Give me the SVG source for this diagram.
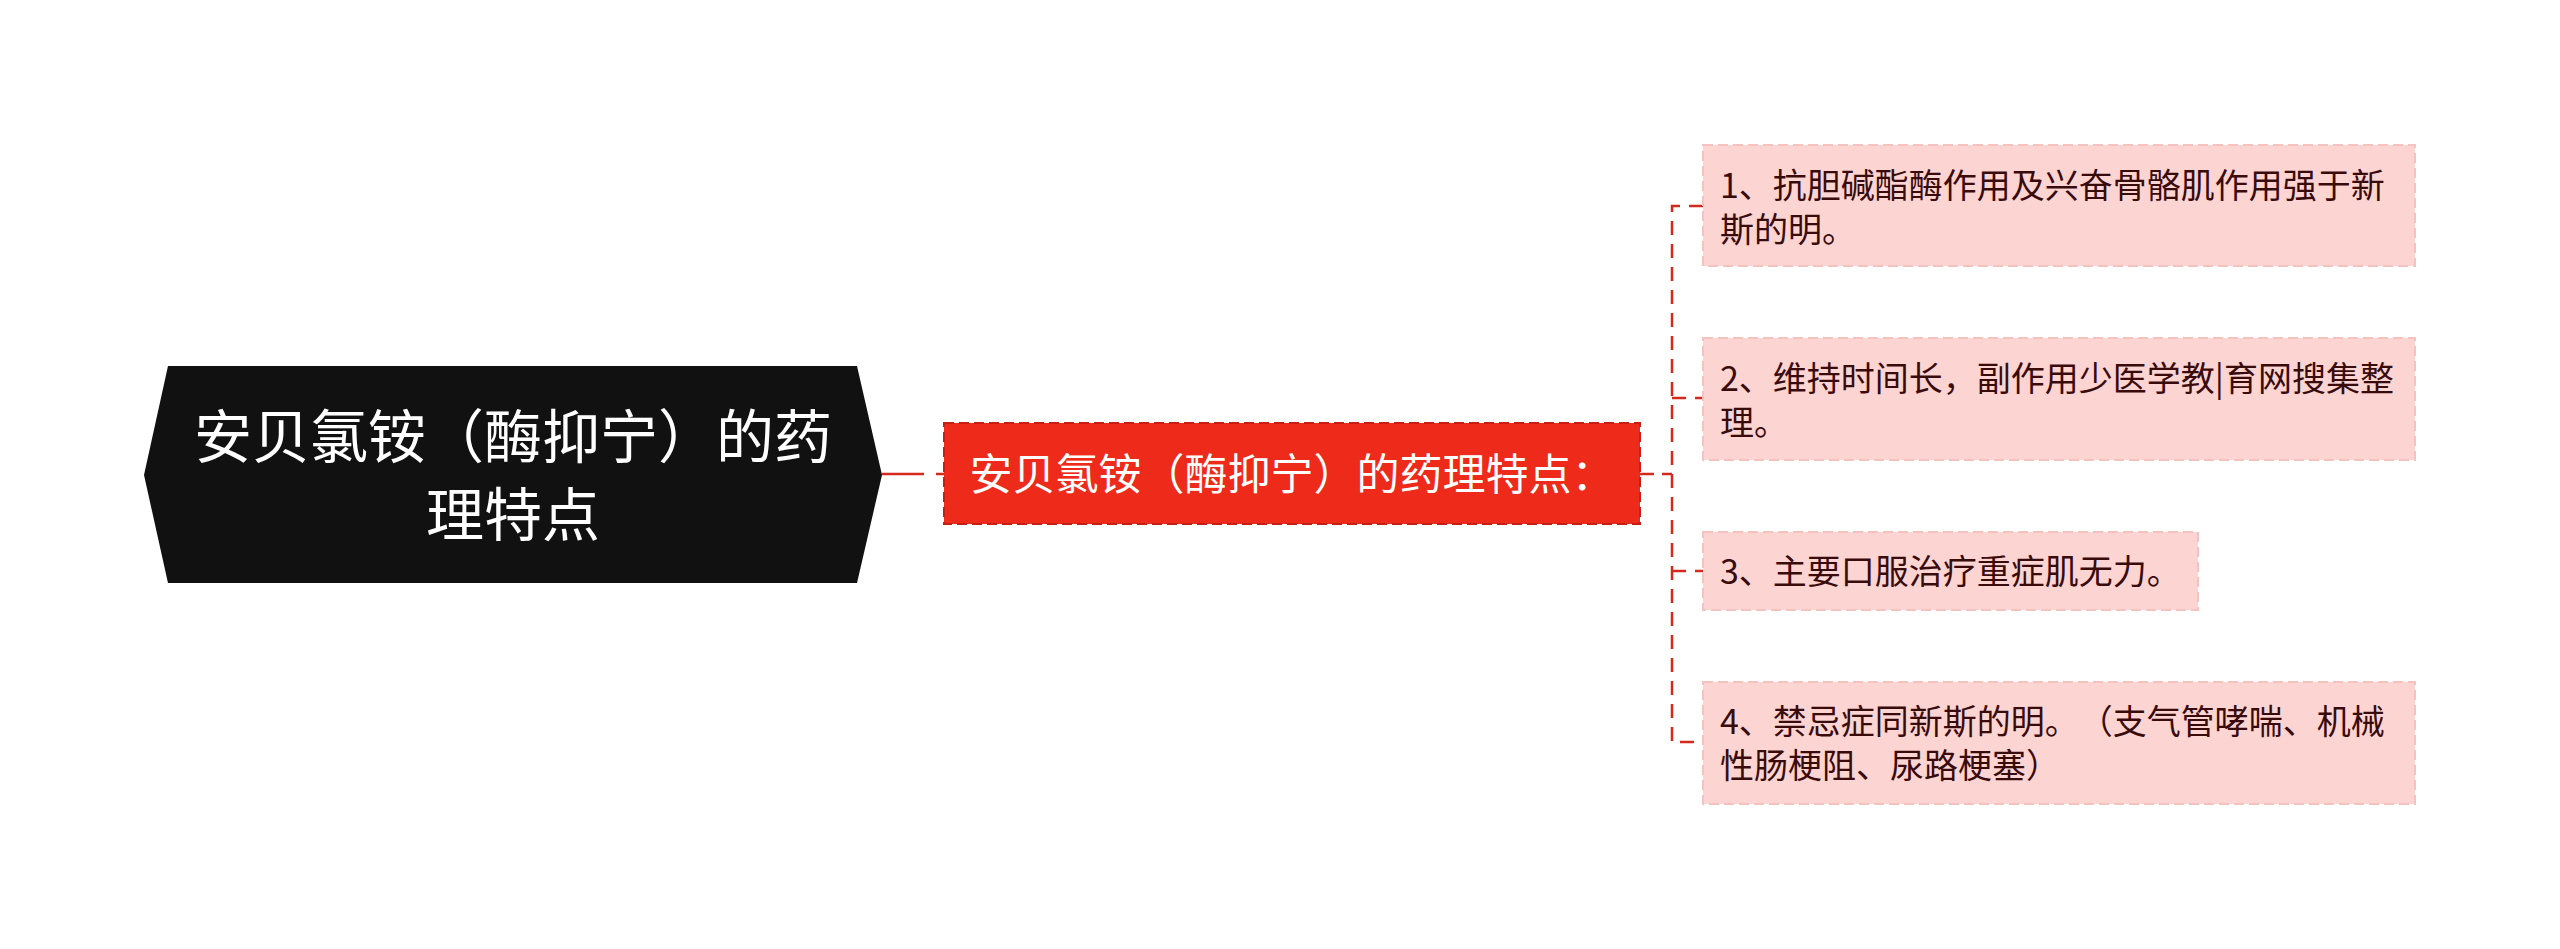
<svg xmlns="http://www.w3.org/2000/svg" width="2560" height="949" viewBox="0 0 2560 949">
  <style>
    .cjk { font-family: "Noto Sans CJK SC", "Noto Sans", sans-serif; text-spacing-trim: space-all; }
    .root-text { font-size: 58px; fill: #ffffff; text-anchor: middle; }
    .mid-text { font-size: 43px; fill: #ffffff; text-anchor: middle; }
    .leaf-text { font-size: 34px; fill: #3a0b0b; }
    .leaf { fill: #fcd5d3; stroke: #f6c2bf; stroke-width: 2; stroke-dasharray: 10 5; }
    .conn { fill: none; stroke: #d42a1e; stroke-width: 2.5; stroke-dasharray: 14 9; }
  </style>
  <rect width="2560" height="949" fill="#ffffff"/>
  <g id="connectors">
    <line x1="882" y1="474" x2="944" y2="474" class="conn" style="stroke-dasharray:42 12 16 8"/>
    <line x1="1640" y1="474" x2="1672" y2="474" class="conn" style="stroke-dasharray:14 8"/>
    <path class="conn" d="M1703 206 H1672 V742 H1703"/>
    <path class="conn" d="M1672 398 H1703"/>
    <path class="conn" d="M1672 571 H1703"/>
  </g>
  <g id="root">
    <polygon points="168,366 857,366 882,475 857,583 168,583 144,475" fill="#111111"/>
    <text class="cjk root-text" x="513" y="458">安贝氯铵（酶抑宁）的药</text>
    <text class="cjk root-text" x="513" y="536">理特点</text>
  </g>
  <g id="middle">
    <rect x="944" y="423" width="696" height="101" fill="#ee2a1a" stroke="#c81f15" stroke-width="2" stroke-dasharray="10 5"/>
    <text class="cjk mid-text" x="1292" y="490">安贝氯铵（酶抑宁）的药理特点：</text>
  </g>
  <g id="leaf1">
    <rect class="leaf" x="1703" y="145" width="712" height="121"/>
    <text class="cjk leaf-text" x="1720" y="198">1、抗胆碱酯酶作用及兴奋骨骼肌作用强于新</text>
    <text class="cjk leaf-text" x="1720" y="242">斯的明。</text>
  </g>
  <g id="leaf2">
    <rect class="leaf" x="1703" y="338" width="712" height="122"/>
    <text class="cjk leaf-text" x="1720" y="391">2、维持时间长，副作用少医学教|育网搜集整</text>
    <text class="cjk leaf-text" x="1720" y="435">理。</text>
  </g>
  <g id="leaf3">
    <rect class="leaf" x="1703" y="532" width="495" height="78"/>
    <text class="cjk leaf-text" x="1720" y="584">3、主要口服治疗重症肌无力。</text>
  </g>
  <g id="leaf4">
    <rect class="leaf" x="1703" y="682" width="712" height="122"/>
    <text class="cjk leaf-text" x="1720" y="734">4、禁忌症同新斯的明。（支气管哮喘、机械</text>
    <text class="cjk leaf-text" x="1720" y="778">性肠梗阻、尿路梗塞）</text>
  </g>
</svg>
